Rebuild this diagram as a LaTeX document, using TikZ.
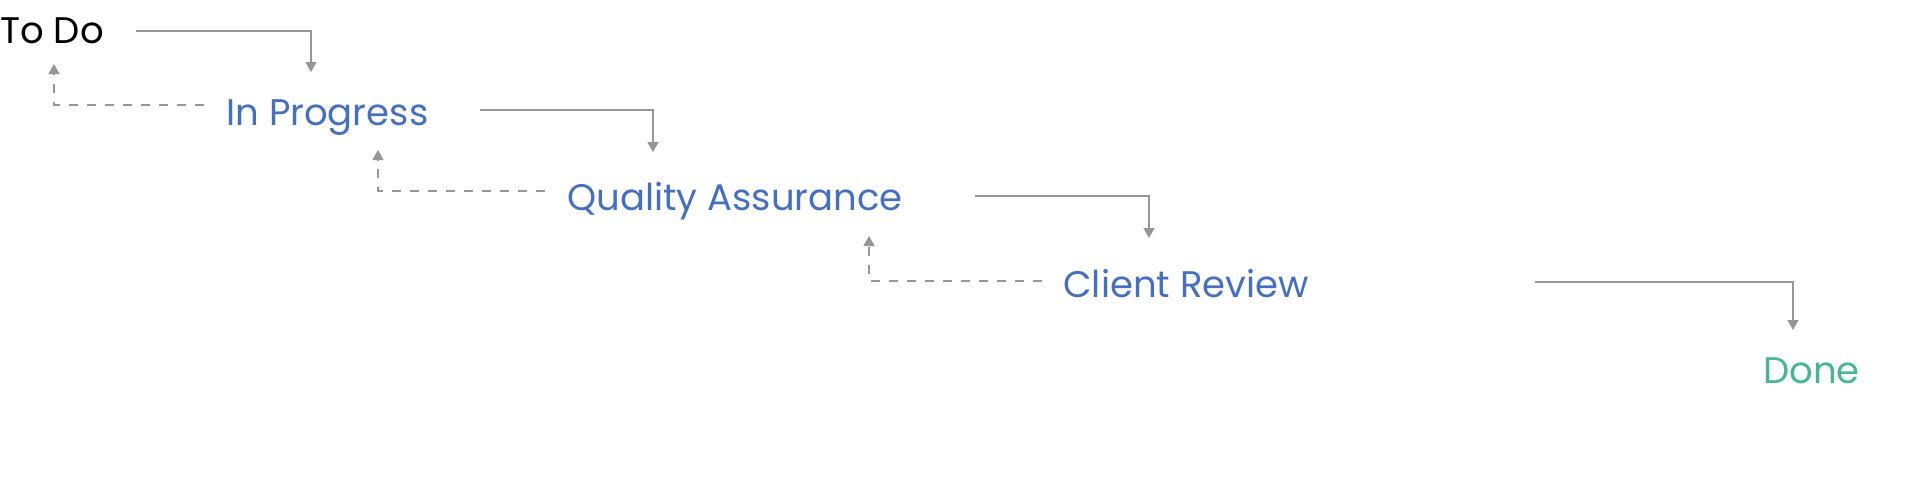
\documentclass[tikz,border=0pt]{standalone}
\usepackage{fontspec}
\setmainfont{Poppins}
\usetikzlibrary{arrows.meta}
\definecolor{mygray}{RGB}{150,150,150}
\definecolor{myblue}{RGB}{70,112,190}
\definecolor{mygreen}{RGB}{72,184,140}

\begin{document}
\begin{tikzpicture}[x=0.5pt, y=-0.5pt,
    stage/.style={anchor=base west, inner sep=0pt, font=\fontsize{18.5}{20}\selectfont},
    flow/.style={draw=mygray, line width=0.7pt, -{Triangle[width=5.5pt,length=5pt]}},
    back/.style={flow, dash pattern=on 4.5pt off 4.5pt}]
    \useasboundingbox (0,0) rectangle (1907,483);
    % Stages
    \node[stage] (todo) at (0,43) {To Do};
    \node[stage, color=myblue] (prog) at (226,125) {In Progress};
    \node[stage, color=myblue] (qa) at (567,210) {Quality Assurance};
    \node[stage, color=myblue] (review) at (1063,297) {Client Review};
    \node[stage, color=mygreen] (done) at (1763,383) {Done};
    % Forward corners
    \coordinate (f1s) at (136,31);  \coordinate (f1e) at (311,72);
    \coordinate (f2s) at (480,110); \coordinate (f2e) at (653,152);
    \coordinate (f3s) at (975,196); \coordinate (f3e) at (1149,238);
    \coordinate (f4s) at (1535,282);\coordinate (f4e) at (1793,330);
    \draw[flow] (f1s) -| (f1e);
    \draw[flow] (f2s) -| (f2e);
    \draw[flow] (f3s) -| (f3e);
    \draw[flow] (f4s) -| (f4e);
    % Backward corners
    \coordinate (b1s) at (204,105); \coordinate (b1e) at (54,64);
    \coordinate (b2s) at (545,191); \coordinate (b2e) at (378,150);
    \coordinate (b3s) at (1042,281);\coordinate (b3e) at (869,236);
    \draw[back] (b1s) -| (b1e);
    \draw[back] (b2s) -| (b2e);
    \draw[back] (b3s) -| (b3e);
\end{tikzpicture}
\end{document}
